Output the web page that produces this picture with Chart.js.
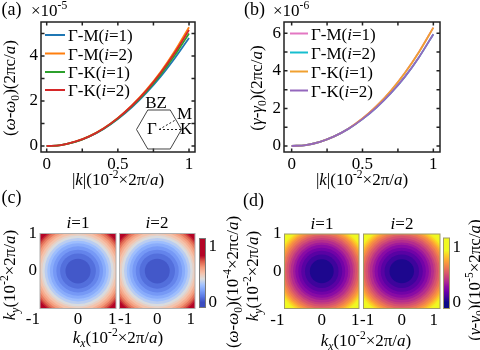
<!DOCTYPE html>
<html><head><meta charset="utf-8">
<script src="https://cdn.jsdelivr.net/npm/chart.js@4/dist/chart.umd.min.js"></script>
<style>
html,body{margin:0;padding:0;background:#fff;}
#wrap{position:relative;width:480px;height:350px;overflow:hidden;background:#fff;}
#wrap canvas{position:absolute;left:0;top:0;}
</style></head><body><div id="wrap"></div>
<script>
// ================= DATA =================
// |k| in units of 1e-2 x 2pi/a
const kValues = [0,0.1,0.2,0.3,0.4,0.5,0.6,0.7,0.8,0.9,1.0];
// panel (a): (omega - omega0), units 1e-5 x 2pi c/a
const omegaGM1 = [0,0.04,0.18,0.42,0.76,1.20,1.73,2.36,3.08,3.90,4.80];
const omegaGM2 = [0,0.04,0.19,0.44,0.79,1.25,1.82,2.50,3.29,4.22,5.28];
const omegaGK1 = [0,0.04,0.18,0.43,0.77,1.22,1.77,2.42,3.17,4.03,5.00];
const omegaGK2 = [0,0.04,0.19,0.43,0.78,1.24,1.80,2.46,3.24,4.14,5.15];
// panel (b): (gamma - gamma0), units 1e-6 x 2pi c/a
const gammaGM1 = [0,0.05,0.22,0.51,0.92,1.46,2.13,2.94,3.90,5.02,6.30];
const gammaGM2 = [0,0.05,0.22,0.51,0.91,1.43,2.06,2.81,3.69,4.74,5.95];
const gammaGK1 = [0,0.05,0.22,0.51,0.92,1.46,2.13,2.94,3.90,5.02,6.30];
const gammaGK2 = [0,0.05,0.22,0.51,0.91,1.43,2.06,2.81,3.69,4.74,5.95];
const seriesLabels = ['Γ-M(*i*=1)','Γ-M(*i*=2)','Γ-K(*i*=1)','Γ-K(*i*=2)'];
// tick labels
const kTicks = [0,0.5,1];            const kTickLabels = ['0','0.5','1'];
const omegaTicks = [0,2,4];          const omegaTickLabels = ['0','2','4'];
const gammaTicks = [0,2,4,6];        const gammaTickLabels = ['0','2','4','6'];
const mapXTicks = [-1,0,1];          const mapXTickLabels = ['-1','0','1'];
const mapYTicks = [0,1];             const mapYTickLabels = ['0','1'];
const cbarTicks = [0,1];             const cbarTickLabels = ['0','1'];
// panel (c): contour levels of (omega-omega0) (1e-4) and the |k| where each level is reached
const cLevels = [0,0.055,0.11,0.165,0.22,0.275,0.33,0.385,0.44,0.495,0.55,0.605,0.66,0.715,0.77,0.825,0.88,0.935,0.99,1.045];
const cLevelRadii = [0,0.33,0.47,0.57,0.66,0.74,0.81,0.88,0.94,0.99,1.05,1.10,1.15,1.20,1.24,1.28,1.33,1.37,1.41,1.45];
// panel (d): contour levels of (gamma-gamma0) (1e-5) and their |k|
const dLevels = [0,0.06,0.12,0.18,0.24,0.30,0.36,0.42,0.48,0.54,0.60,0.66,0.72,0.78,0.84,0.90,0.96,1.02,1.08,1.14,1.20];
const dLevelRadii = [0,0.32,0.45,0.55,0.63,0.71,0.77,0.84,0.89,0.95,1.0,1.05,1.10,1.14,1.18,1.22,1.26,1.30,1.34,1.38,1.41];
const cBarRange = [-0.094,1.147];
const dBarRange = [-0.114,1.178];
const cColorMax = 0.84;
const dColorMax = 0.95;

// ================= STYLE / HELPERS =================
const W=480,H=350, FONT="'Liberation Serif','Times New Roman',serif", FS=17;
const AXW=30, AXH=22;
const wrap=document.getElementById('wrap');
const colA=['#1f77b4','#ff7f0e','#2ca02c','#d62728'];
const colB=['#e377c2','#17becf','#f0a030','#9467bd'];

function parseRich(str){
  const out=[]; let i=0, buf='', it=false;
  const flush=()=>{ if(buf){out.push({t:buf,i:it}); buf='';} };
  while(i<str.length){
    const c=str[i];
    if(c==='*'){flush(); it=!it; i++; continue;}
    if((c==='_'||c==='^') && str[i+1]==='{'){ flush(); const j=str.indexOf('}',i);
      let t=str.slice(i+2,j), ital=it;
      if(t.length>2 && t[0]==='*' && t[t.length-1]==='*'){ t=t.slice(1,-1); ital=true; }
      out.push({t, i:ital, s:c==='_'?'sub':'sup'}); i=j+1; continue;}
    buf+=c; i++;
  }
  flush(); return out;
}
function drawRich(ctx,str,x,y,o={}){
  const size=o.size||FS, align=o.align||'center', rot=o.rot||0;
  ctx.save(); ctx.translate(x,y); ctx.rotate(rot);
  const parts=parseRich(str).map(s=>{
    const sz=s.s?size*0.68:size; const font=(s.i?'italic ':'')+sz+'px '+FONT;
    ctx.font=font; return {t:s.t,font,w:ctx.measureText(s.t).width,dy:s.s==='sup'?-size*0.4:s.s==='sub'?size*0.22:0};
  });
  const tot=parts.reduce((a,p)=>a+p.w,0);
  let cx=align==='center'?-tot/2:align==='right'?-tot:0;
  ctx.fillStyle=o.color||'#000'; ctx.textAlign='left'; ctx.textBaseline='alphabetic';
  for(const p of parts){ctx.font=p.font; ctx.fillText(p.t,cx,p.dy); cx+=p.w;}
  ctx.restore();
}
function hex(h){return [1,3,5].map(i=>parseInt(h.substr(i,2),16));}
function lerpColor(stops,t){
  t=Math.max(0,Math.min(1,t));
  const n=stops.length-1, f=t*n, i=Math.min(n-1,Math.floor(f)), u=f-i;
  const a=hex(stops[i]), b=hex(stops[i+1]);
  return 'rgb('+a.map((v,k)=>Math.round(v+(b[k]-v)*u)).join(',')+')';
}
const coolwarm=['#3b4cc0','#5a78e4','#7b9ff9','#a3c2fe','#dcdddd','#f5c1a9','#f49a7b','#dc5d4a','#b40426'];
const plasma=['#0d0887','#41049d','#6a00a8','#8f0da4','#b12a90','#cc4778','#e16462','#f2844b','#fca636','#fcce25','#f0f921'];

function scaleCfg(ax,isX){
  const shown=ax.show!==false;
  return {
    type:'linear', min:ax.min, max:ax.max, position:ax.position||(isX?'bottom':'left'),
    display:shown,
    grid:{display:false,drawTicks:false}, border:{display:false},
    ticks:{display:!ax.customLabels,font:{family:FONT,size:FS},color:'#000',padding:ax.pad??2,maxRotation:0,autoSkip:false,
      callback:(v)=>{const j=(ax.ticks||[]).indexOf(v); return j>=0?ax.labels[j]:'';}},
    afterBuildTicks:s=>{s.ticks=(ax.ticks||[]).map(v=>({value:v}));},
    afterFit:s=>{ if(!shown) return; if(isX) s.height=AXH; else s.width=AXW; }
  };
}
// custom x tick labels: per tick [align, dx]
function xLabelPlugin(ax,spec,baseline){
  return {id:'xlab',afterDraw(ch){ const ctx=ch.ctx, x=ch.scales.x;
    ax.ticks.forEach((v,i)=>{ const s=spec[i]; drawRich(ctx,ax.labels[i],x.getPixelForValue(v)+s[1],baseline,{align:s[0]}); }); }};
}
function makeChart(rect,cfg){
  const c=document.createElement('canvas'); c.width=W; c.height=H;
  c.style.width=W+'px'; c.style.height=H+'px'; wrap.appendChild(c);
  const xs=cfg.x.show!==false, ys=cfg.y.show!==false, yRight=cfg.y.position==='right';
  const padding={
    left: ys&&!yRight? rect.l-AXW : rect.l,
    right: ys&&yRight? W-rect.r-AXW : W-rect.r,
    top: rect.t,
    bottom: xs? H-rect.b-AXH : H-rect.b
  };
  return new Chart(c,{
    type:cfg.type||'scatter',
    data:{datasets:cfg.datasets||[]},
    options:{responsive:false,animation:false,devicePixelRatio:1,layout:{padding},
      plugins:{legend:{display:false},tooltip:{enabled:false}},
      scales:{x:scaleCfg(cfg.x,true),y:scaleCfg(cfg.y,false)},
      elements:{point:{radius:0}}},
    plugins:cfg.plugins||[]
  });
}
function frameTicks(o){
  return {id:'frameTicks',afterDraw(ch){
    const {ctx,chartArea:a,scales:{x,y}}=ch; ctx.save();
    ctx.strokeStyle=o.color||'#222'; ctx.lineWidth=o.lw||1.5;
    const L=o.len||3.5;
    ctx.beginPath();
    (o.xt||[]).forEach(v=>{const p=x.getPixelForValue(v); ctx.moveTo(p,a.bottom); ctx.lineTo(p,a.bottom-L); ctx.moveTo(p,a.top); ctx.lineTo(p,a.top+L);});
    (o.yt||[]).forEach(v=>{const p=y.getPixelForValue(v); ctx.moveTo(a.left,p); ctx.lineTo(a.left+L,p); ctx.moveTo(a.right,p); ctx.lineTo(a.right-L,p);});
    ctx.stroke();
    ctx.strokeRect(a.left,a.top,a.right-a.left,a.bottom-a.top);
    ctx.restore();
  }};
}
function textPlugin(items){
  return {id:'texts',afterDraw(ch){ const ctx=ch.ctx; items.forEach(it=>drawRich(ctx,it[0],it[1],it[2],it[3]||{})); }};
}
function legendPlugin(labels,colors,x0,x1,tx,rows){
  return {id:'leg',afterDraw(ch){ const ctx=ch.ctx; ctx.save();
    labels.forEach((l,i)=>{ ctx.strokeStyle=colors[i]; ctx.lineWidth=2; ctx.beginPath(); ctx.moveTo(x0,rows[i]); ctx.lineTo(x1,rows[i]); ctx.stroke();
      drawRich(ctx,l,tx,rows[i]+6,{align:'left'}); });
    ctx.restore(); }};
}
function lineSets(ys,colors){
  return ys.map((arr,i)=>({data:kValues.map((k,j)=>({x:k,y:arr[j]})),borderColor:colors[i],borderWidth:1.8,
    order:ys.length-i,
    showLine:true,pointRadius:0,tension:0.4,cubicInterpolationMode:'monotone',fill:false}));
}
function ringPlugin(levels,radii,cmap,vmax,frameColor){
  return {id:'rings',beforeDatasetsDraw(ch){
    const {ctx,chartArea:a,scales:{x,y}}=ch; ctx.save();
    ctx.beginPath(); ctx.rect(a.left,a.top,a.right-a.left,a.bottom-a.top); ctx.clip();
    const cx=x.getPixelForValue(0), cy=y.getPixelForValue(0), n=levels.length;
    for(let i=n-1;i>=0;i--){
      const mid=i<n-1?(levels[i]+levels[i+1])/2:levels[i]+(levels[i]-levels[i-1])/2;
      ctx.fillStyle=lerpColor(cmap,mid/vmax);
      if(i===n-1){ctx.fillRect(a.left,a.top,a.right-a.left,a.bottom-a.top);}
      else{const r=radii[i+1]; ctx.beginPath();
        ctx.ellipse(cx,cy,Math.abs(x.getPixelForValue(r)-cx),Math.abs(cy-y.getPixelForValue(r)),0,0,Math.PI*2); ctx.fill();}
    }
    ctx.restore(); ctx.save(); ctx.strokeStyle=frameColor; ctx.lineWidth=1;
    ctx.strokeRect(a.left,a.top,a.right-a.left,a.bottom-a.top); ctx.restore();
  }};
}
function cbarPlugin(cmap,vmax,frameColor){
  return {id:'cbar',beforeDatasetsDraw(ch){
    const {ctx,chartArea:a,scales:{y}}=ch; ctx.save();
    for(let p=Math.floor(a.top);p<a.bottom;p++){
      const v=y.getValueForPixel(p+0.5); ctx.fillStyle=lerpColor(cmap,v/vmax);
      ctx.fillRect(a.left,p,a.right-a.left,1);
    }
    ctx.strokeStyle=frameColor; ctx.lineWidth=1; ctx.strokeRect(a.left,a.top,a.right-a.left,a.bottom-a.top);
    ctx.restore();
  }};
}

// ================= PANEL (a) =================
makeChart({l:41,t:22,r:195,b:152},{
  type:'scatter',
  datasets:lineSets([omegaGM1,omegaGM2,omegaGK1,omegaGK2],colA),
  x:{min:-0.04,max:1.042,ticks:kTicks,labels:kTickLabels,pad:2},
  y:{min:-0.267,max:5.51,ticks:omegaTicks,labels:omegaTickLabels,pad:3},
  plugins:[frameTicks({xt:[0,0.25,0.5,0.75,1],yt:[0,1,2,3,4,5]}),
    legendPlugin(seriesLabels,colA,45,65,68,[35,53.5,72,90]),
    {id:'bz',afterDraw(ch){const ctx=ch.ctx; const cx=159,cy=129.5,R=22.5; ctx.save();
      ctx.strokeStyle='#444'; ctx.lineWidth=1; ctx.beginPath();
      for(let i=0;i<=6;i++){const t=i*Math.PI/3; const px=cx+R*Math.cos(t), py=cy-R*Math.sin(t); i?ctx.lineTo(px,py):ctx.moveTo(px,py);} ctx.stroke();
      ctx.setLineDash([2,2]); ctx.strokeStyle='#222'; ctx.beginPath();
      ctx.moveTo(cx,cy); ctx.lineTo(cx+R,cy);
      ctx.moveTo(cx,cy); ctx.lineTo(cx+R*0.75,cy-R*0.433); ctx.stroke(); ctx.restore();
      drawRich(ctx,'BZ',156,108); drawRich(ctx,'M',177,119,{align:'left'});
      drawRich(ctx,'K',180,134,{align:'left'}); drawRich(ctx,'Γ',152,134);}},
    textPlugin([
      ['(a)',1.5,15,{align:'left',size:18}],
      ['×10^{-5}',31,16,{align:'left'}],
      ['(*ω*-*ω*_{0})(2πc/*a*)',15,88,{rot:-Math.PI/2}],
      ['|*k*|(10^{-2}×2π/*a*)',118,185]
    ])]
});
// ================= PANEL (b) =================
makeChart({l:284,t:22,r:440,b:152},{
  type:'scatter',
  datasets:lineSets([gammaGM1,gammaGM2,gammaGK1,gammaGK2],colB),
  x:{min:-0.054,max:1.047,ticks:kTicks,labels:kTickLabels,pad:2},
  y:{min:-0.32,max:6.6,ticks:gammaTicks,labels:gammaTickLabels,pad:3},
  plugins:[frameTicks({xt:[0,0.25,0.5,0.75,1],yt:[0,1,2,3,4,5,6]}),
    legendPlugin(seriesLabels,colB,290,308,311,[33.5,52.5,71.5,90.5]),
    textPlugin([
      ['(b)',244,15,{align:'left',size:18}],
      ['×10^{-6}',273,16,{align:'left'}],
      ['(*γ*-*γ*_{0})(2πc/*a*)',262,88,{rot:-Math.PI/2}],
      ['|*k*|(10^{-2}×2π/*a*)',362,185]
    ])]
});
// ================= PANEL (c) =================
const mapXLeft = {min:-1,max:1,ticks:mapXTicks,labels:mapXTickLabels,customLabels:true};
const mapXRight = {min:-1,max:1,ticks:mapXTicks,labels:mapXTickLabels,customLabels:true};
const leftSpec = [['right',0],['center',0],['right',0.5]];
const rightSpec = [['left',-1.5],['center',0],['right',0]];
makeChart({l:40,t:233.5,r:116,b:308.5},{
  x:mapXLeft,
  y:{min:-1,max:1,ticks:mapYTicks,labels:mapYTickLabels,pad:3},
  plugins:[ringPlugin(cLevels,cLevelRadii,coolwarm,cColorMax,'#b0b0b0'),
    xLabelPlugin(mapXLeft,leftSpec,324),
    textPlugin([['(c)',1.5,203,{align:'left',size:18}],['*i*=1',78,228],
      ['*k*_{*y*}(10^{-2}×2π/*a*)',15,275,{rot:-Math.PI/2}],
      ['*k*_{*x*}(10^{-2}×2π/*a*)',118,343]])]
});
makeChart({l:119.5,t:233.5,r:195,b:308.5},{
  x:mapXRight,
  y:{min:-1,max:1,show:false},
  plugins:[ringPlugin(cLevels,cLevelRadii,coolwarm,cColorMax,'#b0b0b0'),
    xLabelPlugin(mapXRight,rightSpec,324),
    textPlugin([['*i*=2',157,228]])]
});
makeChart({l:199.5,t:238.5,r:205.5,b:307.5},{
  x:{min:0,max:1,show:false},
  y:{min:cBarRange[0],max:cBarRange[1],ticks:cbarTicks,labels:cbarTickLabels,position:'right',pad:3},
  plugins:[cbarPlugin(coolwarm,cColorMax,'#777'),
    textPlugin([['(*ω*-*ω*_{0})(10^{-4}×2πc/*a*)',238,282,{rot:-Math.PI/2}]])]
});
// ================= PANEL (d) =================
makeChart({l:284.5,t:234,r:359,b:308.5},{
  x:mapXLeft,
  y:{min:-1,max:1,ticks:mapYTicks,labels:mapYTickLabels,pad:3},
  plugins:[ringPlugin(dLevels,dLevelRadii,plasma,dColorMax,'#a09a6a'),
    xLabelPlugin(mapXLeft,leftSpec,325),
    textPlugin([['(d)',243,206,{align:'left',size:18}],['*i*=1',322,229],
      ['*k*_{*y*}(10^{-2}×2π/*a*)',258,276,{rot:-Math.PI/2}],
      ['*k*_{*x*}(10^{-2}×2π/*a*)',366,346]])]
});
makeChart({l:363.5,t:234,r:440,b:308.5},{
  x:mapXRight,
  y:{min:-1,max:1,show:false},
  plugins:[ringPlugin(dLevels,dLevelRadii,plasma,dColorMax,'#a09a6a'),
    xLabelPlugin(mapXRight,[['left',-3.5],['center',0],['right',-2]],325),
    textPlugin([['*i*=2',402,229]])]
});
makeChart({l:443.5,t:238,r:449.5,b:308.5},{
  x:{min:0,max:1,show:false},
  y:{min:dBarRange[0],max:dBarRange[1],ticks:cbarTicks,labels:cbarTickLabels,position:'right',pad:3},
  plugins:[cbarPlugin(plasma,dColorMax,'#a09a6a'),
    textPlugin([['(*γ*-*γ*_{0})(10^{-5}×2πc/*a*)',480,280,{rot:-Math.PI/2}]])]
});
</script></body></html>
